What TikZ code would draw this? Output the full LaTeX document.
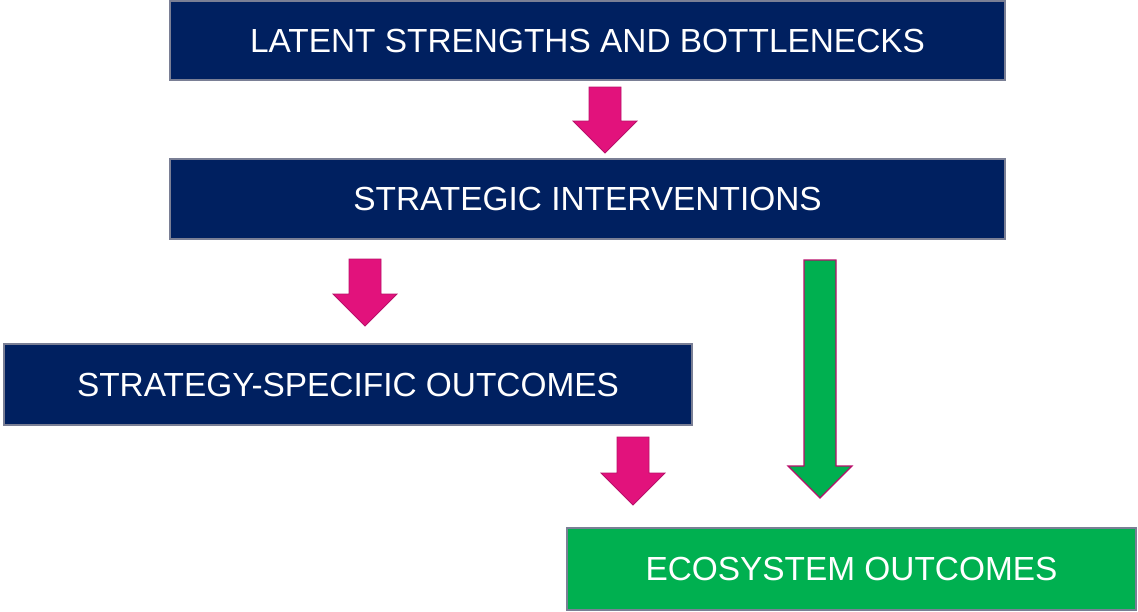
\documentclass[tikz,border=0pt]{standalone}
\usepackage{fontspec}
\setmainfont{Liberation Sans}
\definecolor{navy}{HTML}{002060}
\definecolor{pinkA}{HTML}{E2127C}
\definecolor{pinkB}{HTML}{B8106A}
\definecolor{greenA}{HTML}{00B050}
\definecolor{edgeg}{HTML}{7A7F95}
\tikzset{
  box/.style={draw=edgeg, line width=1.3pt, text=white, inner sep=0pt,
    font=\fontsize{33.4}{40}\selectfont, anchor=center},
  navybox/.style={box, fill=navy},
  greenbox/.style={box, fill=greenA},
  pinkarrow/.style={fill=pinkA, draw=pinkB, line width=0.8pt, line join=miter},
  greenarrow/.style={fill=greenA, draw=pinkB, line width=1.2pt, line join=miter},
}
% #1 style, #2 x centre, #3 y top, #4 y tip
\newcommand\blockarrow[4]{%
  \path[#1] (#2-16,#3) -- (#2+16,#3) -- (#2+16,#4-32) -- (#2+32,#4-32)
    -- (#2,#4) -- (#2-32,#4-32) -- (#2-16,#4-32) -- cycle;}
\begin{document}
\begin{tikzpicture}[x=1pt,y=-1pt]
\useasboundingbox (0,0) rectangle (1138,611);
\node[navybox, minimum width=835pt, minimum height=79pt] (b1) at (587.5,40.5) {LATENT STRENGTHS AND BOTTLENECKS};
\node[navybox, minimum width=835pt, minimum height=80pt] (b2) at (587.5,199) {STRATEGIC INTERVENTIONS};
\node[navybox, minimum width=688pt, minimum height=81pt] (b3) at (348,384.5) {STRATEGY-SPECIFIC OUTCOMES};
\node[greenbox, minimum width=569pt, minimum height=82pt] (b4) at (851.5,569) {ECOSYSTEM OUTCOMES};
\blockarrow{pinkarrow}{605}{87}{153}
\blockarrow{pinkarrow}{365}{259}{326}
\blockarrow{greenarrow}{820}{260}{498}
\blockarrow{pinkarrow}{633}{437}{505}
\end{tikzpicture}
\end{document}
